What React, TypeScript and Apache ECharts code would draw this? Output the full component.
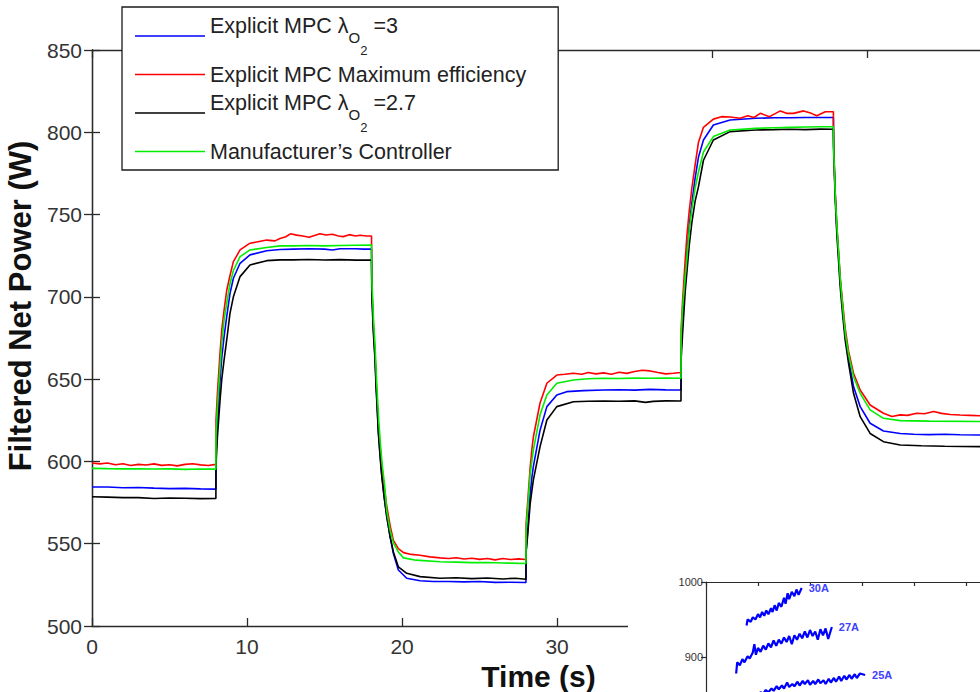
import React, { useEffect, useRef } from 'react';
import * as echarts from 'echarts';

// ---- Main chart data: [time (s), filtered net power (W)] ----
const NAME_L3 = 'Explicit MPC λO2 =3';
const NAME_MAX = 'Explicit MPC Maximum efficiency';
const NAME_L27 = 'Explicit MPC λO2 =2.7';
const NAME_MAN = 'Manufacturer’s Controller';

const blueL3: [number, number][] = [
  [0, 584.5], [1, 584.5], [2, 584], [3, 584.2], [4, 583.8], [5, 583.5], [6, 583.6], [7, 583.3], [7.99, 583.2],
  [8.0, 604], [8.09, 622], [8.26, 649.5], [8.37, 663], [8.52, 675.8], [8.69, 688], [8.9, 702], [9.12, 711.3], [9.55, 720.4], [10.19, 725.5], [11.27, 728], [12.13, 728.8], [13, 729], [14, 729.2], [15, 729], [15.5, 728.5], [16, 729.2], [17, 729.2], [17.5, 729], [18.03, 729],
  [18.05, 705], [18.15, 681], [18.26, 663], [18.32, 648], [18.41, 631], [18.47, 619], [18.58, 605], [18.69, 592], [18.84, 579], [19.01, 567], [19.23, 554], [19.44, 544], [19.76, 534], [20.3, 529], [21.16, 527.5], [22, 527], [23, 527], [24, 526.8], [25, 527], [26, 526.5], [27, 526.6], [27.99, 526.4],
  [28.0, 545], [28.1, 558], [28.26, 580], [28.37, 590], [28.47, 597], [28.9, 619], [29.34, 633.3], [29.98, 640.4], [30.62, 642.4], [31.7, 643], [33, 643.4], [34, 643.6], [35, 643.3], [36, 643.8], [37, 643.5], [37.99, 643.4],
  [38.0, 668], [38.09, 686], [38.26, 714], [38.52, 743], [38.69, 757], [38.9, 772], [39.12, 785], [39.44, 795.3], [40.08, 804.4], [41.16, 807.5], [42.8, 808.5], [44, 808.8], [45, 808.8], [46, 809], [47, 809], [47.82, 809],
  [47.84, 790], [47.94, 762], [48.04, 742], [48.15, 726], [48.26, 710], [48.41, 694], [48.58, 677], [48.8, 662], [49.12, 645.5], [49.55, 633.3], [50.19, 623.2], [51.05, 618.5], [52.13, 617], [53, 616.5], [54, 616.3], [55, 616.5], [56, 616.2], [57.6, 616],
];

const redMax: [number, number][] = [
  [0, 599], [0.5, 598.5], [1, 599], [1.5, 598], [2, 598.6], [2.5, 597.5], [3, 598.2], [3.5, 597.8], [4, 598.5], [4.5, 597.6], [5, 598], [5.5, 597.3], [6, 598.2], [6.5, 598.6], [7, 597.9], [7.5, 597.5], [7.99, 598.2],
  [8.0, 625], [8.09, 641.5], [8.26, 666], [8.37, 680], [8.52, 692], [8.69, 704], [8.9, 713], [9.12, 721.4], [9.55, 728.5], [10.19, 732.6], [10.7, 733.5], [11.27, 734.5], [11.8, 734], [12.13, 735.5], [12.5, 736.5], [12.8, 738.3], [13.2, 737.5], [13.6, 737], [14, 736.2], [14.4, 737.5], [14.7, 738.4], [15.1, 737.6], [15.5, 738], [15.9, 737], [16.2, 736.6], [16.6, 737.8], [17, 737], [17.3, 737.4], [17.7, 737], [18.03, 737],
  [18.05, 706], [18.15, 683], [18.26, 665], [18.32, 650], [18.41, 634], [18.47, 622], [18.58, 609], [18.69, 597], [18.84, 585], [19.01, 573], [19.23, 561], [19.44, 552], [19.76, 547], [20.09, 544.6], [20.6, 543.5], [21.16, 543], [21.8, 542], [22.45, 541.4], [23, 541], [23.5, 541.5], [24, 540.7], [24.5, 541.2], [25, 540.5], [25.5, 541], [26, 540.2], [26.5, 541], [27, 540.4], [27.5, 540.8], [27.99, 540.4],
  [28.0, 562], [28.1, 575], [28.26, 596], [28.37, 607], [28.47, 615], [28.9, 635.5], [29.34, 647.5], [29.98, 652.5], [30.5, 653], [31.05, 653.6], [31.6, 653], [32, 654], [32.5, 653.2], [33, 653.8], [33.5, 653], [34, 654.2], [34.5, 653.5], [35, 654.6], [35.5, 655.4], [36, 655], [36.5, 654], [37, 653.2], [37.5, 653.6], [37.99, 654],
  [38.0, 680], [38.09, 697], [38.26, 722], [38.37, 737], [38.52, 752], [38.69, 766], [38.9, 780], [39.12, 794], [39.44, 803], [40.08, 808], [40.6, 809.5], [41.16, 809.3], [41.8, 808.5], [42.3, 810], [42.7, 809], [43.1, 811.5], [43.7, 809.5], [44.4, 813], [44.8, 811.5], [45.25, 811.5], [45.9, 813], [46.4, 811.5], [46.75, 810], [47.3, 812.5], [47.82, 812.5],
  [47.84, 792], [47.94, 764], [48.04, 744], [48.15, 728], [48.26, 712], [48.41, 697], [48.58, 681], [48.8, 667], [49.12, 653.6], [49.55, 643.4], [50.19, 634.3], [51.05, 629.3], [51.6, 627.3], [52.13, 628.3], [52.6, 628], [53.2, 629.3], [53.7, 629], [54.28, 630.3], [54.8, 629.2], [55.35, 628.5], [56, 628.2], [56.6, 628], [57.6, 627.6],
];

const blackL27: [number, number][] = [
  [0, 578.5], [1, 578.3], [2, 578], [3, 578], [4, 577.5], [5, 577.8], [6, 577.6], [7, 577.4], [7.99, 577.5],
  [8.0, 598], [8.09, 615], [8.26, 637.4], [8.37, 650], [8.52, 661.7], [8.69, 673.8], [8.9, 690], [9.12, 700], [9.55, 712.3], [10.19, 719.4], [11.27, 722], [12.13, 722.5], [13, 722.5], [14, 722.7], [15, 722.4], [16, 722.6], [17, 722.3], [18.03, 722.3],
  [18.05, 700], [18.15, 678], [18.26, 661], [18.32, 645.5], [18.41, 629], [18.47, 617], [18.58, 603], [18.69, 591], [18.84, 578.6], [19.01, 566.5], [19.23, 554.3], [19.44, 545], [19.76, 536], [20.3, 532], [21.16, 530], [22.45, 529], [23.5, 529.3], [24.5, 528.8], [25.5, 529.2], [26.5, 528.6], [27.3, 529], [27.99, 528.4],
  [28.0, 545], [28.1, 555], [28.26, 574], [28.37, 582], [28.47, 588.8], [28.9, 609], [29.34, 625.2], [29.98, 633.3], [31.05, 636.3], [32, 636.6], [33, 636.7], [34, 636.6], [35, 636.8], [35.7, 635.9], [36.2, 636.5], [37, 636.8], [37.99, 636.7],
  [38.0, 662], [38.09, 677], [38.26, 703], [38.52, 731], [38.69, 745], [38.9, 758], [39.12, 767], [39.44, 783], [40.08, 795.3], [41.16, 800.4], [42.8, 801.4], [44, 801.6], [45, 801.8], [46, 801.6], [47, 801.9], [47.82, 801.8],
  [47.84, 787], [47.94, 759], [48.04, 738.7], [48.15, 722.4], [48.26, 706], [48.41, 690], [48.58, 673.8], [48.8, 659.6], [49.12, 641.4], [49.55, 627.2], [50.19, 617], [51.05, 612], [52.13, 610], [53.5, 609.5], [55, 609.2], [57.6, 609],
];

const greenMan: [number, number][] = [
  [0, 595.8], [1, 595.6], [2, 595.5], [3, 595.5], [4, 595.4], [5, 595.5], [6, 595.2], [7, 595.4], [7.99, 595.3],
  [8.0, 616], [8.09, 633], [8.26, 657.6], [8.37, 672], [8.52, 686], [8.69, 696], [8.9, 708], [9.12, 716], [9.55, 724.4], [10.19, 728.5], [11.27, 730], [12.13, 731], [13, 731], [14, 731.2], [15, 731], [16, 731.2], [17, 731.4], [18.03, 731.5],
  [18.06, 708], [18.16, 686], [18.27, 668], [18.34, 652], [18.43, 636], [18.5, 624], [18.6, 611], [18.72, 598], [18.87, 586], [19.01, 570], [19.23, 558], [19.44, 550.5], [19.76, 545], [20.09, 541.4], [20.9, 540], [22.45, 539], [23.5, 538.8], [24.5, 538.5], [25.5, 538.6], [26.5, 538.3], [27.99, 538],
  [28.0, 558], [28.1, 571], [28.26, 592], [28.37, 600], [28.47, 607], [28.9, 628.3], [29.34, 640.4], [29.98, 647.5], [31.05, 649.5], [32, 650.2], [33, 650.5], [34, 650.4], [35, 650.6], [36, 650.5], [37, 650.7], [37.99, 650.5],
  [38.0, 676], [38.09, 693], [38.26, 712], [38.52, 740], [38.69, 753], [38.9, 766], [39.12, 776], [39.44, 788], [40.08, 797.4], [41.16, 801.4], [42.8, 802.4], [44, 802.8], [45, 803], [46, 803.2], [47, 803.4], [47.82, 803.4],
  [47.85, 786], [47.95, 760], [48.06, 741], [48.17, 725], [48.28, 709], [48.43, 693], [48.6, 677], [48.8, 665], [49.12, 651.5], [49.55, 641.4], [50.19, 631.3], [51.05, 626.2], [52.13, 624.8], [54, 624.5], [57.6, 624.2],
];

// ---- Inset data (partly hidden figure at bottom right) ----
const inset30A: [number, number][] = [
  [0.78, 942], [0.8, 950], [0.86, 947], [0.9, 953], [0.95, 950], [1.0, 957], [1.04, 953], [1.08, 960], [1.12, 955], [1.16, 962], [1.2, 957], [1.25, 965], [1.28, 960], [1.32, 969], [1.36, 962], [1.4, 972], [1.45, 967], [1.5, 979], [1.53, 971], [1.57, 985], [1.6, 977], [1.65, 987], [1.7, 981], [1.74, 990], [1.78, 983], [1.84, 992],
];
const inset27A: [number, number][] = [
  [0.58, 878], [0.6, 893], [0.65, 889], [0.7, 897], [0.74, 893], [0.8, 901], [0.84, 898], [0.9, 906], [0.93, 917], [0.96, 903], [1.0, 912], [1.05, 907], [1.1, 915], [1.15, 910], [1.2, 918], [1.25, 913], [1.3, 922], [1.35, 915], [1.4, 923], [1.45, 918], [1.5, 926], [1.55, 920], [1.6, 928], [1.65, 917], [1.7, 929], [1.75, 923], [1.8, 931], [1.85, 925], [1.9, 934], [1.95, 926], [2.0, 936], [2.05, 928], [2.1, 934], [2.15, 923], [2.2, 937], [2.25, 929], [2.3, 938], [2.35, 924], [2.42, 940],
];
const inset25A: [number, number][] = [
  [0.9, 846], [0.95, 851], [1.0, 848], [1.05, 853], [1.1, 851], [1.15, 856], [1.2, 853], [1.26, 858], [1.3, 855], [1.36, 861], [1.4, 857], [1.46, 862], [1.5, 858], [1.56, 866], [1.6, 860], [1.66, 864], [1.7, 861], [1.76, 867], [1.8, 862], [1.86, 868], [1.9, 864], [1.96, 869], [2.0, 863], [2.06, 868], [2.1, 864], [2.16, 870], [2.2, 865], [2.26, 869], [2.3, 864], [2.36, 871], [2.4, 866], [2.46, 872], [2.5, 867], [2.56, 874], [2.6, 868], [2.66, 875], [2.7, 870], [2.76, 876], [2.8, 871], [2.86, 877], [2.9, 872], [2.96, 878], [3.06, 876],
];
const insetTicks = [900, 1000];

const FONT = '"Liberation Sans", Arial, Helvetica, sans-serif';
const AXIS_COLOR = '#2a2a2a';

export default function App() {
  const ref = useRef<HTMLDivElement>(null);

  useEffect(() => {
    if (!ref.current) return;
    const chart = echarts.init(ref.current, null, { renderer: 'svg' });

    const axisLine = { show: true, lineStyle: { color: AXIS_COLOR, width: 1.3 } };
    const tickIn = { show: true, inside: true, length: 8, lineStyle: { color: AXIS_COLOR, width: 1.3 } };

    const mainSeries = (name: string, data: [number, number][], color: string) => ({
      name,
      type: 'line',
      xAxisIndex: 0,
      yAxisIndex: 0,
      data,
      symbol: 'none',
      showSymbol: false,
      lineStyle: { color, width: 1.6 },
      itemStyle: { color },
      z: 2,
    });

    const insetSeries = (name: string, data: [number, number][]) => ({
      name,
      type: 'line',
      xAxisIndex: 2,
      yAxisIndex: 2,
      data,
      symbol: 'none',
      showSymbol: false,
      lineStyle: { color: '#0000ff', width: 2.2 },
      itemStyle: { color: '#0000ff' },
      z: 22,
      endLabel: {
        show: true,
        formatter: '{a}',
        color: '#4040ff',
        fontSize: 11,
        fontWeight: 'bold',
        fontFamily: FONT,
        distance: 7,
      },
    });

    const legendFormatter = (name: string) => {
      if (name === NAME_L3) return '{n|Explicit MPC λ}{o|O}{t|2}{n| =3}';
      if (name === NAME_L27) return '{n|Explicit MPC λ}{o|O}{t|2}{n| =2.7}';
      return '{m|' + name + '}';
    };

    chart.setOption({
      animation: false,
      backgroundColor: '#ffffff',
      textStyle: { fontFamily: FONT },
      grid: [
        { left: 92, top: 50, width: 893, height: 576, show: false, outerBoundsMode: 'none', containLabel: false },
        { left: 706, top: 582, width: 416, height: 150, show: false, outerBoundsMode: 'none', containLabel: false },
      ],
      legend: {
        data: [NAME_L3, NAME_MAX, NAME_L27, NAME_MAN],
        orient: 'vertical',
        left: 122,
        top: 7,
        icon: 'rect',
        itemWidth: 70,
        itemHeight: 1.3,
        itemGap: 6,
        padding: [7.5, 32, 7.5, 13],
        backgroundColor: '#ffffff',
        borderColor: '#1a1a1a',
        borderWidth: 1.3,
        borderRadius: 0,
        selectedMode: false,
        z: 8,
        formatter: legendFormatter,
        textStyle: {
          fontFamily: FONT,
          fontSize: 21.5,
          color: '#222',
          rich: {
            n: { fontSize: 21.5, lineHeight: 22, padding: [0, 0, 20, 0], color: '#222', fontFamily: FONT },
            o: { fontSize: 15, lineHeight: 16, padding: [3, 0, 0, 0], color: '#222', fontFamily: FONT },
            t: { fontSize: 13, lineHeight: 14, padding: [30, 0, 0, 0], color: '#222', fontFamily: FONT },
            m: { fontSize: 21.5, lineHeight: 22, color: '#222', fontFamily: FONT },
          },
        },
      },
      xAxis: [
        {
          type: 'value',
          gridIndex: 0,
          position: 'bottom',
          min: 0,
          max: 57.6,
          interval: 10,
          name: 'Time (s)',
          nameLocation: 'middle',
          nameGap: 30,
          nameTextStyle: { fontSize: 30, fontWeight: 'bold', color: '#111', fontFamily: FONT },
          axisLine,
          axisTick: tickIn,
          axisLabel: {
            fontSize: 21,
            color: '#333',
            margin: 10,
            fontFamily: FONT,
            formatter: (v: number) => (v <= 30 ? String(v) : ''),
          },
          splitLine: { show: false },
        },
        {
          type: 'value',
          gridIndex: 0,
          position: 'top',
          min: 0,
          max: 57.6,
          interval: 10,
          axisLine,
          axisTick: tickIn,
          axisLabel: { show: false },
          splitLine: { show: false },
        },
        {
          type: 'value',
          gridIndex: 1,
          position: 'top',
          min: 0,
          max: 8,
          interval: 1,
          z: 20,
          axisLine: { show: true, lineStyle: { color: AXIS_COLOR, width: 1.2 } },
          axisTick: { show: true, inside: true, length: 4, lineStyle: { color: AXIS_COLOR, width: 1.2 } },
          axisLabel: { show: false },
          splitLine: { show: false },
        },
      ],
      yAxis: [
        {
          type: 'value',
          gridIndex: 0,
          position: 'left',
          min: 500,
          max: 850,
          interval: 50,
          name: 'Filtered Net Power (W)',
          nameLocation: 'middle',
          nameGap: 50,
          nameTextStyle: {
            fontSize: 31,
            fontWeight: 'bold',
            color: '#111',
            fontFamily: FONT,
            padding: [0, 0, 0, 64],
          },
          axisLine,
          axisTick: tickIn,
          axisLabel: { fontSize: 21, color: '#333', margin: 10, fontFamily: FONT },
          splitLine: { show: false },
        },
        {
          type: 'value',
          gridIndex: 0,
          position: 'right',
          min: 500,
          max: 850,
          interval: 50,
          axisLine,
          axisTick: tickIn,
          axisLabel: { show: false },
          splitLine: { show: false },
        },
        {
          type: 'value',
          gridIndex: 1,
          position: 'left',
          min: 800,
          max: 1000,
          z: 20,
          axisLine: { show: true, lineStyle: { color: AXIS_COLOR, width: 1.2 } },
          axisTick: {
            show: true,
            inside: false,
            length: 5,
            customValues: insetTicks,
            lineStyle: { color: AXIS_COLOR, width: 1.2 },
          },
          axisLabel: {
            fontSize: 11,
            color: '#333',
            margin: 3,
            fontFamily: FONT,
            customValues: insetTicks,
            formatter: (v: number) => String(v),
          },
          splitLine: { show: false },
        },
      ],
      graphic: [
        {
          type: 'rect',
          z: 10,
          silent: true,
          shape: { x: 628, y: 570, width: 360, height: 130 },
          style: { fill: '#ffffff' },
        },
      ],
      series: [
        mainSeries(NAME_L3, blueL3, '#0000ff'),
        mainSeries(NAME_MAX, redMax, '#ff0000'),
        mainSeries(NAME_L27, blackL27, '#000000'),
        mainSeries(NAME_MAN, greenMan, '#00ee00'),
        insetSeries('30A', inset30A),
        insetSeries('27A', inset27A),
        insetSeries('25A', inset25A),
      ],
    });

    return () => chart.dispose();
  }, []);

  return (
    <div
      ref={ref}
      style={{ position: 'absolute', left: 0, top: 0, width: 980, height: 692, background: '#fff' }}
    />
  );
}
